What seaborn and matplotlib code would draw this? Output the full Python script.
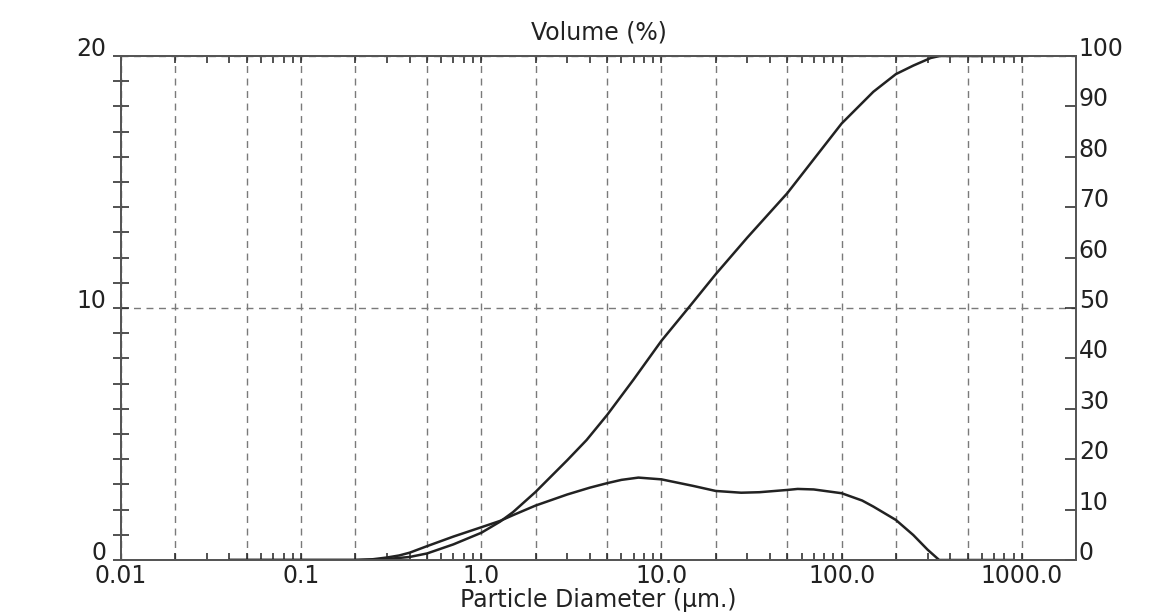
import matplotlib
matplotlib.use("Agg")
import matplotlib.pyplot as plt
import matplotlib.ticker as mticker
import seaborn as sns
import pandas as pd

sns.set_style("white")
plt.rcParams['font.family'] = ['DejaVu Sans']

# Volume frequency curve (left axis, %)
freq_size = [0.04, 0.2, 0.25, 0.3, 0.35, 0.4, 0.5, 0.7, 1.0, 1.27, 1.5, 2.0, 3.0, 4.0, 5.0, 6.0,
             7.45, 10.0, 15.0, 20.0, 27.7, 35.0, 50.0, 57.0, 70.0, 100.0, 130.0, 150.0,
             200.0, 250.0, 300.0, 348.0, 900.0]
freq_vol = [0.0, 0.0, 0.03, 0.10, 0.18, 0.29, 0.55, 0.93, 1.30, 1.55, 1.78, 2.16, 2.60, 2.87, 3.05,
            3.18, 3.27, 3.20, 2.94, 2.74, 2.67, 2.69, 2.78, 2.82, 2.80, 2.65, 2.36, 2.12,
            1.59, 0.99, 0.41, 0.0, 0.0]

# Cumulative volume curve (right axis, %)
cum_size = [0.04, 0.2, 0.25, 0.3, 0.4, 0.5, 0.7, 1.0, 1.27, 1.5, 2.0, 3.0, 3.84, 5.0, 7.0, 10.0,
            14.1, 20.0, 30.0, 50.0, 70.0, 100.0, 150.0, 200.0, 250.0, 312.0, 350.0, 900.0]
cum_vol = [0.0, 0.0, 0.05, 0.2, 0.6, 1.3, 3.1, 5.4, 7.6, 9.5, 13.5, 19.8, 23.8, 28.8, 35.8, 43.5,
           50.0, 56.7, 64.0, 72.8, 79.5, 86.6, 92.9, 96.4, 98.1, 99.6, 100.0, 100.0]

x_tick_vals = [0.01, 0.1, 1.0, 10.0, 100.0, 1000.0]
x_tick_labels = ["0.01", "0.1", "1.0", "10.0", "100.0", "1000.0"]

df_freq = pd.DataFrame({"size": freq_size, "vol": freq_vol})
df_cum = pd.DataFrame({"size": cum_size, "vol": cum_vol})

ink = "#222222"
grid_c = "#7a7a7a"
fs = 17

fig = plt.figure(figsize=(11.7, 6.13), dpi=100)
ax = fig.add_axes([121 / 1170, 1 - 560 / 613, (1076 - 121) / 1170, (560 - 56) / 613])
ax.set_xscale("log")

sns.lineplot(data=df_freq, x="size", y="vol", ax=ax, color=ink, linewidth=1.8,
             estimator=None, sort=False)
ax.set_xlim(0.01, 2000)
ax.set_ylim(0, 20)

ax2 = ax.twinx()
sns.lineplot(data=df_cum, x="size", y="vol", ax=ax2, color=ink, linewidth=1.8,
             estimator=None, sort=False)
ax2.set_ylim(0, 100)
ax2.set_xlim(0.01, 2000)

# x axis: gridlines at 1-2-5, labels only at decades
lab_map = dict(zip(x_tick_vals, x_tick_labels))
ax.xaxis.set_major_locator(mticker.LogLocator(base=10, subs=(1.0, 2.0, 5.0), numticks=60))
ax.xaxis.set_minor_locator(mticker.LogLocator(base=10, subs=(3.0, 4.0, 6.0, 7.0, 8.0, 9.0), numticks=60))
ax.xaxis.set_major_formatter(mticker.FuncFormatter(
    lambda v, p: next((l for k, l in lab_map.items() if abs(v / k - 1) < 1e-6), "")))
ax.xaxis.set_minor_formatter(mticker.NullFormatter())
ax.tick_params(axis="x", which="both", direction="in", length=5, width=1.1,
               top=True, bottom=True, color=ink, labelsize=fs, labelcolor=ink, pad=3)

# left axis
ax.yaxis.set_major_locator(mticker.MultipleLocator(10))
ax.yaxis.set_minor_locator(mticker.MultipleLocator(1))
ax.tick_params(axis="y", which="both", direction="inout", length=11, width=1.1,
               left=True, right=False, color=ink, labelsize=fs, labelcolor=ink, pad=5)
for t in ax.get_yticklabels():
    t.set_verticalalignment("baseline")

ax.grid(True, which="major", axis="both", linestyle=(0, (5, 4)), color=grid_c, linewidth=1.0)
ax2.grid(False)

# right axis
ax2.yaxis.set_major_locator(mticker.MultipleLocator(10))
ax2.tick_params(axis="y", direction="in", length=8, width=1.1, color=ink,
                labelsize=fs, labelcolor=ink, pad=2)
for t in ax2.get_yticklabels():
    t.set_verticalalignment("baseline")

for a in (ax, ax2):
    a.set_xlabel("")
    a.set_ylabel("")
    for s in a.spines.values():
        s.set_color("#555555")
        s.set_linewidth(1.3)

ax.set_title("Volume (%)", fontsize=fs, color=ink, pad=12)
ax.set_xlabel("Particle Diameter (µm.)", fontsize=fs, color=ink, labelpad=0)

fig.savefig("out.png", dpi=100)
